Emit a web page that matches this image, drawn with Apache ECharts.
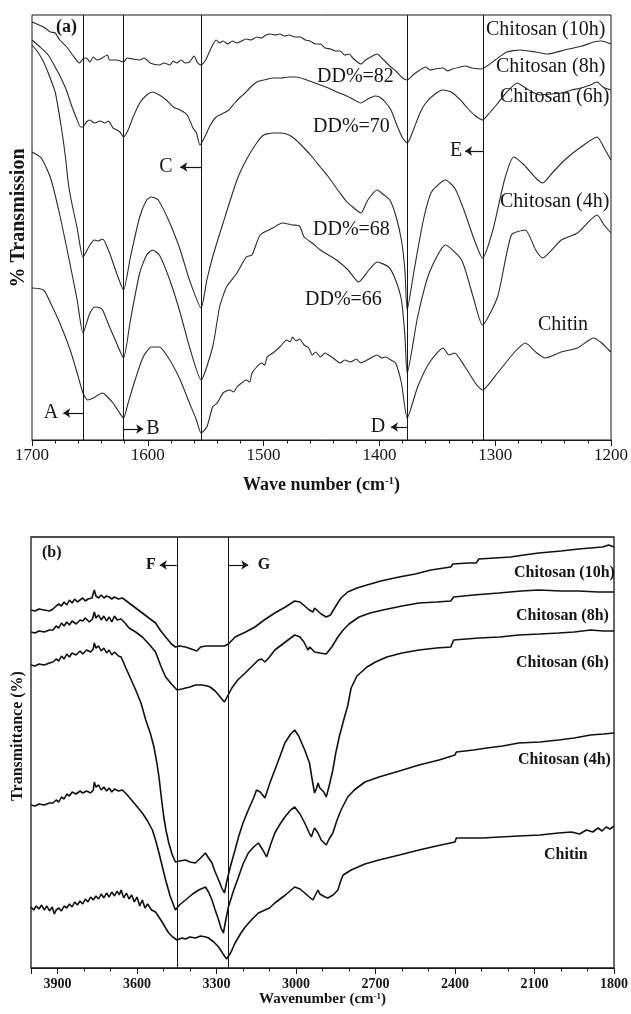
<!DOCTYPE html>
<html>
<head>
<meta charset="utf-8">
<script src="https://cdn.jsdelivr.net/npm/echarts@6/dist/echarts.min.js"></script>
<style>
  html, body { margin: 0; padding: 0; background: #fff; }
  #chart { width: 631px; height: 1014px; }
</style>
</head>
<body>
<div id="chart"></div>
<script>
// panel (a): wave number 1700-1200, transmission in arbitrary units (offset spectra)
const a10h = [[1700,418],[1690,413],[1684,408],[1680,407],[1676,400],[1670,393],[1665,385],[1659,377],[1656,381],[1653,382],[1650,378],[1647,383],[1644,380],[1641,381],[1635,385],[1633,380],[1627,380],[1621,378],[1618,382],[1613,381],[1607,380],[1603,382],[1598,377],[1590,375],[1586,377],[1581,375],[1578,379],[1575,377],[1571,380],[1568,377],[1564,378],[1560,384],[1557,377],[1554,375],[1550,380],[1548,385],[1544,395],[1541,400],[1538,397],[1535,399],[1531,396],[1527,399],[1523,397],[1519,399],[1515,401],[1511,400],[1506,403],[1502,402],[1498,405],[1494,406],[1490,405],[1486,406],[1482,404],[1478,405],[1473,403],[1468,403],[1464,400],[1460,399],[1455,396],[1451,396],[1447,392],[1442,391],[1438,389],[1434,389],[1430,385],[1426,386],[1423,382],[1420,379],[1416,376],[1412,380],[1406,384],[1402,386],[1398,382],[1392,375],[1385,368],[1380,362],[1376,360],[1370,366],[1365,370],[1360,373],[1356,370],[1352,371],[1345,372],[1341,369],[1337,371],[1330,373],[1326,374],[1320,372],[1312,371],[1300,380],[1290,388],[1278,390],[1265,388],[1255,386],[1240,390],[1225,394],[1215,398],[1208,399],[1200,396]];
const a8h = [[1700,400],[1693,393],[1686,385],[1680,373],[1675,362],[1670,349],[1666,335],[1662,323],[1658,313],[1656,313],[1653,318],[1650,320],[1646,317],[1641,319],[1637,317],[1634,319],[1630,312],[1624,308],[1621,303],[1617,310],[1613,322],[1607,337],[1601,345],[1596,348],[1590,345],[1584,340],[1578,333],[1572,330],[1566,325],[1561,312],[1558,307],[1555,295],[1550,305],[1546,315],[1541,323],[1536,326],[1530,330],[1525,337],[1520,343],[1516,347],[1512,352],[1506,358],[1500,360],[1492,362],[1485,362],[1478,363],[1472,363],[1465,361],[1458,358],[1451,355],[1444,352],[1437,348],[1430,345],[1423,341],[1416,337],[1410,341],[1404,344],[1400,343],[1395,338],[1390,330],[1385,315],[1380,302],[1376,297],[1370,312],[1365,327],[1360,337],[1352,346],[1345,350],[1338,348],[1330,340],[1324,332],[1318,325],[1311,320],[1305,327],[1299,335],[1290,348],[1281,357],[1275,353],[1268,348],[1261,345],[1252,346],[1243,347],[1234,350],[1226,352],[1218,355],[1212,358],[1207,353],[1200,350]];
const a6h = [[1700,395],[1695,388],[1690,378],[1686,367],[1680,348],[1675,315],[1671,282],[1669,260],[1667,245],[1664,228],[1661,212],[1656,183],[1650,195],[1646,200],[1643,199],[1639,201],[1633,187],[1627,167],[1621,150],[1615,183],[1607,223],[1601,240],[1597,243],[1591,240],[1581,217],[1572,190],[1564,160],[1554,132],[1549,160],[1544,183],[1535,217],[1523,260],[1515,280],[1506,297],[1500,305],[1492,307],[1485,307],[1478,305],[1472,300],[1465,292],[1458,283],[1451,273],[1444,263],[1434,247],[1428,238],[1423,233],[1416,227],[1410,240],[1402,250],[1396,245],[1391,240],[1386,225],[1381,200],[1378,170],[1376,130],[1370,170],[1362,220],[1355,248],[1343,260],[1335,252],[1327,230],[1318,200],[1311,182],[1302,210],[1292,260],[1284,283],[1275,275],[1265,262],[1259,257],[1250,268],[1240,280],[1226,293],[1212,303],[1205,290],[1200,280]];
const a4h = [[1700,288],[1692,282],[1684,262],[1676,225],[1667,175],[1661,140],[1656,107],[1650,127],[1646,133],[1641,132],[1639,130],[1633,113],[1627,97],[1621,82],[1615,120],[1607,167],[1601,185],[1596,190],[1590,185],[1581,160],[1572,127],[1564,93],[1554,60],[1544,93],[1538,133],[1532,153],[1523,167],[1515,183],[1510,185],[1503,205],[1492,212],[1484,217],[1475,215],[1469,214],[1465,203],[1458,197],[1451,190],[1444,185],[1437,180],[1427,170],[1418,158],[1409,170],[1402,178],[1392,173],[1386,160],[1381,140],[1378,105],[1376,67],[1367,123],[1357,167],[1343,195],[1329,180],[1319,143],[1311,115],[1298,143],[1286,205],[1274,210],[1265,190],[1259,182],[1243,200],[1229,207],[1212,225],[1206,215],[1200,207]];
const aChitin = [[1700,152],[1690,150],[1684,137],[1676,117],[1667,90],[1661,67],[1656,47],[1652,40],[1647,42],[1643,45],[1639,47],[1634,42],[1630,37],[1626,30],[1621,22],[1617,37],[1611,60],[1604,83],[1597,93],[1590,93],[1581,80],[1572,60],[1564,37],[1558,20],[1554,7],[1549,13],[1544,33],[1540,37],[1535,47],[1529,50],[1526,48],[1523,53],[1519,57],[1515,60],[1512,58],[1510,67],[1506,73],[1502,77],[1499,75],[1497,83],[1492,87],[1486,93],[1480,100],[1477,98],[1475,103],[1472,99],[1469,101],[1465,95],[1461,92],[1458,85],[1455,88],[1451,83],[1447,87],[1444,85],[1440,82],[1434,77],[1430,80],[1425,78],[1420,81],[1416,77],[1412,79],[1406,83],[1402,85],[1398,82],[1395,83],[1390,80],[1386,77],[1381,57],[1376,22],[1367,53],[1357,77],[1345,92],[1340,85],[1335,87],[1326,73],[1316,55],[1311,50],[1298,67],[1284,87],[1274,97],[1264,87],[1257,82],[1243,88],[1229,92],[1215,102],[1208,97],[1202,90],[1200,88]];

// panel (b): wavenumber 4000-1800
const b10h = [[4000,358],[3985,357],[3970,359],[3950,358],[3930,357],[3917,359],[3905,362],[3895,364],[3885,362],[3875,366],[3865,363],[3855,368],[3845,365],[3835,369],[3825,366],[3815,368],[3805,370],[3795,367],[3785,369],[3770,370],[3761,378],[3755,372],[3745,370],[3735,373],[3725,370],[3715,372],[3705,371],[3695,369],[3685,371],[3670,369],[3655,370],[3640,367],[3630,365],[3605,360],[3580,355],[3555,350],[3530,345],[3510,337],[3492,331],[3470,324],[3455,321],[3440,322],[3417,321],[3395,319],[3374,317],[3360,321],[3340,322],[3305,322],[3270,322],[3255,324],[3230,331],[3190,336],[3155,341],[3120,348],[3080,355],[3040,361],[3005,367],[2985,366],[2967,362],[2950,358],[2936,356],[2930,360],[2924,359],[2905,354],[2886,351],[2870,353],[2861,357],[2845,364],[2830,370],[2805,376],[2770,380],[2732,383],[2680,387],[2611,391],[2550,394],[2491,398],[2416,401],[2408,404],[2350,405],[2320,405],[2310,409],[2250,410],[2190,411],[2140,413],[2084,415],[2000,417],[1934,419],[1890,420],[1843,421],[1820,423],[1800,421]];
const b8h = [[4000,336],[3985,335],[3970,337],[3950,336],[3930,338],[3917,338],[3905,342],[3895,340],[3885,345],[3875,342],[3865,346],[3855,343],[3845,347],[3830,344],[3815,348],[3805,347],[3795,350],[3780,346],[3768,349],[3761,356],[3755,350],[3745,353],[3735,348],[3725,352],[3715,347],[3705,351],[3695,346],[3685,352],[3675,348],[3660,349],[3645,345],[3630,340],[3605,336],[3580,331],[3555,324],[3530,316],[3510,302],[3492,291],[3470,284],[3449,278],[3430,279],[3417,280],[3400,281],[3380,283],[3355,283],[3335,282],[3324,281],[3305,277],[3292,273],[3280,269],[3270,266],[3258,272],[3242,280],[3220,288],[3192,295],[3165,302],[3142,308],[3130,309],[3117,306],[3100,311],[3080,318],[3040,326],[3005,333],[2985,331],[2970,326],[2955,318],[2948,321],[2942,320],[2930,316],[2910,315],[2886,314],[2865,321],[2842,331],[2822,338],[2800,344],[2762,351],[2720,355],[2672,358],[2600,362],[2536,365],[2470,366],[2416,367],[2405,371],[2330,373],[2235,375],[2150,377],[2084,378],[2000,377],[1934,377],[1860,376],[1800,376]];
const b6h = [[4000,303],[3985,302],[3970,304],[3950,303],[3930,305],[3917,306],[3905,309],[3895,307],[3885,312],[3875,309],[3865,314],[3855,311],[3845,315],[3830,313],[3815,317],[3805,314],[3790,318],[3775,316],[3765,319],[3761,325],[3755,320],[3745,322],[3735,317],[3725,320],[3715,315],[3705,318],[3695,313],[3685,316],[3670,312],[3660,311],[3650,305],[3642,300],[3625,290],[3605,278],[3585,265],[3567,248],[3550,235],[3536,221],[3525,205],[3517,191],[3508,170],[3499,151],[3490,137],[3480,125],[3468,114],[3455,106],[3440,107],[3417,108],[3400,106],[3380,105],[3360,110],[3342,115],[3330,110],[3317,105],[3305,96],[3292,88],[3280,80],[3270,75],[3260,88],[3248,101],[3230,118],[3217,131],[3200,145],[3180,158],[3160,170],[3149,178],[3135,176],[3117,170],[3100,184],[3080,198],[3060,212],[3042,225],[3020,234],[3005,238],[2990,232],[2967,218],[2949,205],[2940,190],[2930,175],[2922,180],[2917,185],[2910,180],[2905,181],[2895,176],[2886,171],[2875,182],[2861,198],[2850,215],[2836,232],[2820,248],[2805,262],[2792,280],[2770,292],[2732,301],[2700,306],[2657,311],[2600,315],[2536,318],[2470,320],[2416,321],[2405,328],[2310,330],[2230,331],[2160,333],[2080,334],[2009,335],[1950,336],[1889,338],[1840,337],[1800,337]];
const b4h = [[4000,163],[3985,162],[3970,164],[3950,163],[3930,165],[3917,165],[3905,168],[3895,166],[3885,171],[3875,169],[3865,174],[3855,172],[3845,176],[3830,174],[3815,177],[3805,175],[3790,177],[3775,175],[3765,178],[3761,186],[3755,181],[3745,183],[3735,178],[3725,181],[3715,177],[3705,180],[3695,176],[3685,179],[3670,177],[3655,178],[3640,174],[3630,171],[3605,163],[3580,155],[3560,147],[3542,138],[3530,128],[3517,115],[3505,102],[3492,88],[3475,72],[3455,58],[3440,63],[3417,68],[3390,74],[3367,78],[3350,80],[3342,81],[3330,76],[3317,68],[3305,58],[3292,48],[3283,40],[3274,35],[3265,48],[3255,61],[3235,78],[3217,91],[3200,104],[3180,115],[3160,121],[3142,125],[3125,118],[3111,111],[3095,124],[3080,135],[3060,144],[3042,151],[3020,158],[3005,161],[2985,154],[2967,145],[2950,135],[2942,131],[2936,136],[2930,140],[2924,138],[2917,135],[2905,128],[2886,123],[2875,129],[2861,135],[2845,148],[2830,158],[2805,171],[2780,178],[2740,186],[2687,191],[2610,197],[2536,203],[2460,208],[2400,213],[2395,216],[2330,218],[2280,220],[2220,222],[2160,225],[2080,226],[2009,228],[1950,230],[1889,233],[1840,234],[1800,235]];
const bChitin = [[4000,61],[3990,58],[3980,62],[3970,59],[3960,63],[3950,58],[3940,62],[3930,57],[3920,61],[3912,54],[3905,58],[3895,60],[3885,57],[3875,62],[3865,60],[3855,64],[3845,61],[3835,66],[3825,63],[3815,67],[3805,64],[3795,69],[3785,66],[3775,71],[3765,68],[3755,72],[3745,69],[3735,74],[3725,70],[3715,75],[3705,71],[3695,76],[3685,72],[3675,77],[3667,73],[3660,78],[3650,70],[3640,75],[3630,69],[3620,73],[3610,66],[3600,71],[3590,62],[3580,68],[3570,60],[3560,64],[3545,58],[3530,56],[3515,50],[3505,46],[3492,40],[3480,35],[3465,31],[3449,28],[3430,30],[3417,29],[3400,31],[3380,30],[3360,32],[3340,31],[3330,30],[3310,26],[3292,21],[3275,14],[3262,9],[3257,8],[3245,16],[3230,25],[3210,34],[3192,41],[3165,49],[3142,55],[3117,58],[3100,60],[3080,65],[3040,73],[3005,81],[2985,79],[2967,75],[2950,71],[2936,68],[2925,74],[2917,78],[2910,74],[2905,73],[2890,71],[2880,70],[2860,73],[2842,78],[2830,88],[2822,93],[2792,98],[2740,104],[2687,108],[2610,113],[2536,118],[2470,122],[2400,126],[2395,130],[2340,130],[2295,130],[2230,131],[2160,132],[2080,133],[2009,135],[1960,136],[1930,134],[1904,138],[1880,136],[1860,140],[1845,137],[1830,141],[1815,139],[1800,142]];

// band markers and arrows [from, to, height]
const bandsA = [1656, 1621, 1554, 1376, 1310];
const bandsB = [3450, 3255];
const arrowsA = [[1656, 1673, 27], [1621, 1604, 11], [1554, 1572, 273], [1376, 1390, 13], [1310, 1326, 289]];
const arrowsB = [[3450, 3514, 403], [3255, 3180, 403]];

const SERIF = '"Liberation Serif", "DejaVu Serif", serif';
const INK = '#161616';

function txt(x, y, text, size, bold, align, rot) {
  return {
    type: 'text', x: x, y: y, rotation: rot || 0, silent: true,
    style: {
      text: text, fill: INK, align: align || 'left', verticalAlign: 'middle',
      font: (bold ? 'bold ' : '') + size + 'px ' + SERIF
    }
  };
}

function curve(data, idx) {
  return {
    type: 'line', data: data, xAxisIndex: idx, yAxisIndex: idx,
    showSymbol: false, symbol: 'none', silent: true, animation: false,
    smooth: idx === 0 ? 0.2 : false,
    lineStyle: { color: idx === 0 ? '#2a2a2a' : '#111', width: idx === 0 ? 1.1 : 1.6 }
  };
}

function marks(idx, bands, arrows) {
  return [{
    type: 'line', data: [], xAxisIndex: idx, yAxisIndex: idx, silent: true,
    markLine: {
      silent: true, symbol: 'none', animation: false, label: { show: false },
      lineStyle: { color: INK, width: 1, type: 'solid' },
      data: bands.map(v => ({ xAxis: v }))
    }
  }, {
    type: 'line', data: [], xAxisIndex: idx, yAxisIndex: idx, silent: true,
    markLine: {
      silent: true, symbol: ['none', 'arrow'], symbolSize: 7, animation: false, label: { show: false },
      lineStyle: { color: INK, width: 1.2, type: 'solid' },
      data: arrows.map(a => [{ coord: [a[0], a[2]] }, { coord: [a[1], a[2]] }])
    }
  }];
}

function xAxis(idx, min, max, step, minor, fontSize, bold, margin, name, nameSize, nameGap) {
  return {
    type: 'value', gridIndex: idx, min: min, max: max, interval: step, inverse: true,
    axisLine: { show: true, onZero: false, lineStyle: { color: INK, width: 1 } },
    axisTick: { show: true, length: 6, lineStyle: { color: INK } },
    minorTick: { show: true, splitNumber: minor, length: 3.5, lineStyle: { color: INK } },
    splitLine: { show: false }, minorSplitLine: { show: false },
    axisLabel: {
      showMaxLabel: idx === 0, fontFamily: SERIF, fontSize: fontSize,
      fontWeight: bold ? 'bold' : 'normal', color: INK, margin: margin,
      formatter: v => String(v)
    },
    name: name, nameLocation: 'middle', nameGap: nameGap,
    nameTextStyle: {
      fontFamily: SERIF, fontSize: nameSize, fontWeight: 'bold', color: INK,
      rich: { sup: { fontFamily: SERIF, fontSize: Math.round(nameSize * 0.6), fontWeight: 'bold', color: INK, verticalAlign: 'top' } }
    }
  };
}

const chart = echarts.init(document.getElementById('chart'), null, { renderer: 'canvas' });
chart.setOption({
  backgroundColor: '#fff',
  animation: false,
  grid: [
    { left: 32, top: 15, width: 580, height: 425, show: true, borderColor: INK, borderWidth: 1, backgroundColor: 'transparent' },
    { left: 31, top: 537, width: 588, height: 431, show: true, borderColor: INK, borderWidth: 1.3, backgroundColor: 'transparent' }
  ],
  xAxis: [
    xAxis(0, 1200, 1700, 100, 5, 17, false, 7, 'Wave number (cm{sup|-1})', 18, 36),
    xAxis(1, 1800, 4000, 300, 3, 14, true, 9, 'Wavenumber (cm{sup|-1})', 15, 22)
  ],
  yAxis: [
    { type: 'value', gridIndex: 0, min: 0, max: 425, show: false },
    { type: 'value', gridIndex: 1, min: 0, max: 431, show: false }
  ],
  series: [
    curve(a10h, 0), curve(a8h, 0), curve(a6h, 0), curve(a4h, 0), curve(aChitin, 0),
    curve(b10h, 1), curve(b8h, 1), curve(b6h, 1), curve(b4h, 1), curve(bChitin, 1)
  ].concat(marks(0, bandsA, arrowsA), marks(1, bandsB, arrowsB)),
  graphic: [
    txt(56, 27, '(a)', 18, true),
    txt(486, 30, 'Chitosan (10h)', 20),
    txt(496, 67, 'Chitosan (8h)', 20),
    txt(500, 97, 'Chitosan (6h)', 20),
    txt(500, 202, 'Chitosan (4h)', 20),
    txt(538, 325, 'Chitin', 20),
    txt(317, 77, 'DD%=82', 20),
    txt(313, 127, 'DD%=70', 20),
    txt(313, 230, 'DD%=68', 20),
    txt(305, 300, 'DD%=66', 20),
    txt(51, 413, 'A', 20, false, 'center'),
    txt(153, 429, 'B', 20, false, 'center'),
    txt(166, 167, 'C', 20, false, 'center'),
    txt(378, 427, 'D', 20, false, 'center'),
    txt(456, 151, 'E', 20, false, 'center'),
    txt(19, 218, '% Transmission', 20, true, 'center', Math.PI / 2),

    txt(42, 553, '(b)', 16, true),
    txt(151, 565, 'F', 16, true, 'center'),
    txt(264, 565, 'G', 16, true, 'center'),
    txt(514, 573, 'Chitosan (10h)', 16, true),
    txt(516, 616, 'Chitosan (8h)', 16, true),
    txt(516, 663, 'Chitosan (6h)', 16, true),
    txt(518, 760, 'Chitosan (4h)', 16, true),
    txt(544, 855, 'Chitin', 16, true),
    txt(18, 736, 'Transmittance (%)', 16, true, 'center', Math.PI / 2)
  ]
});
</script>
</body>
</html>
